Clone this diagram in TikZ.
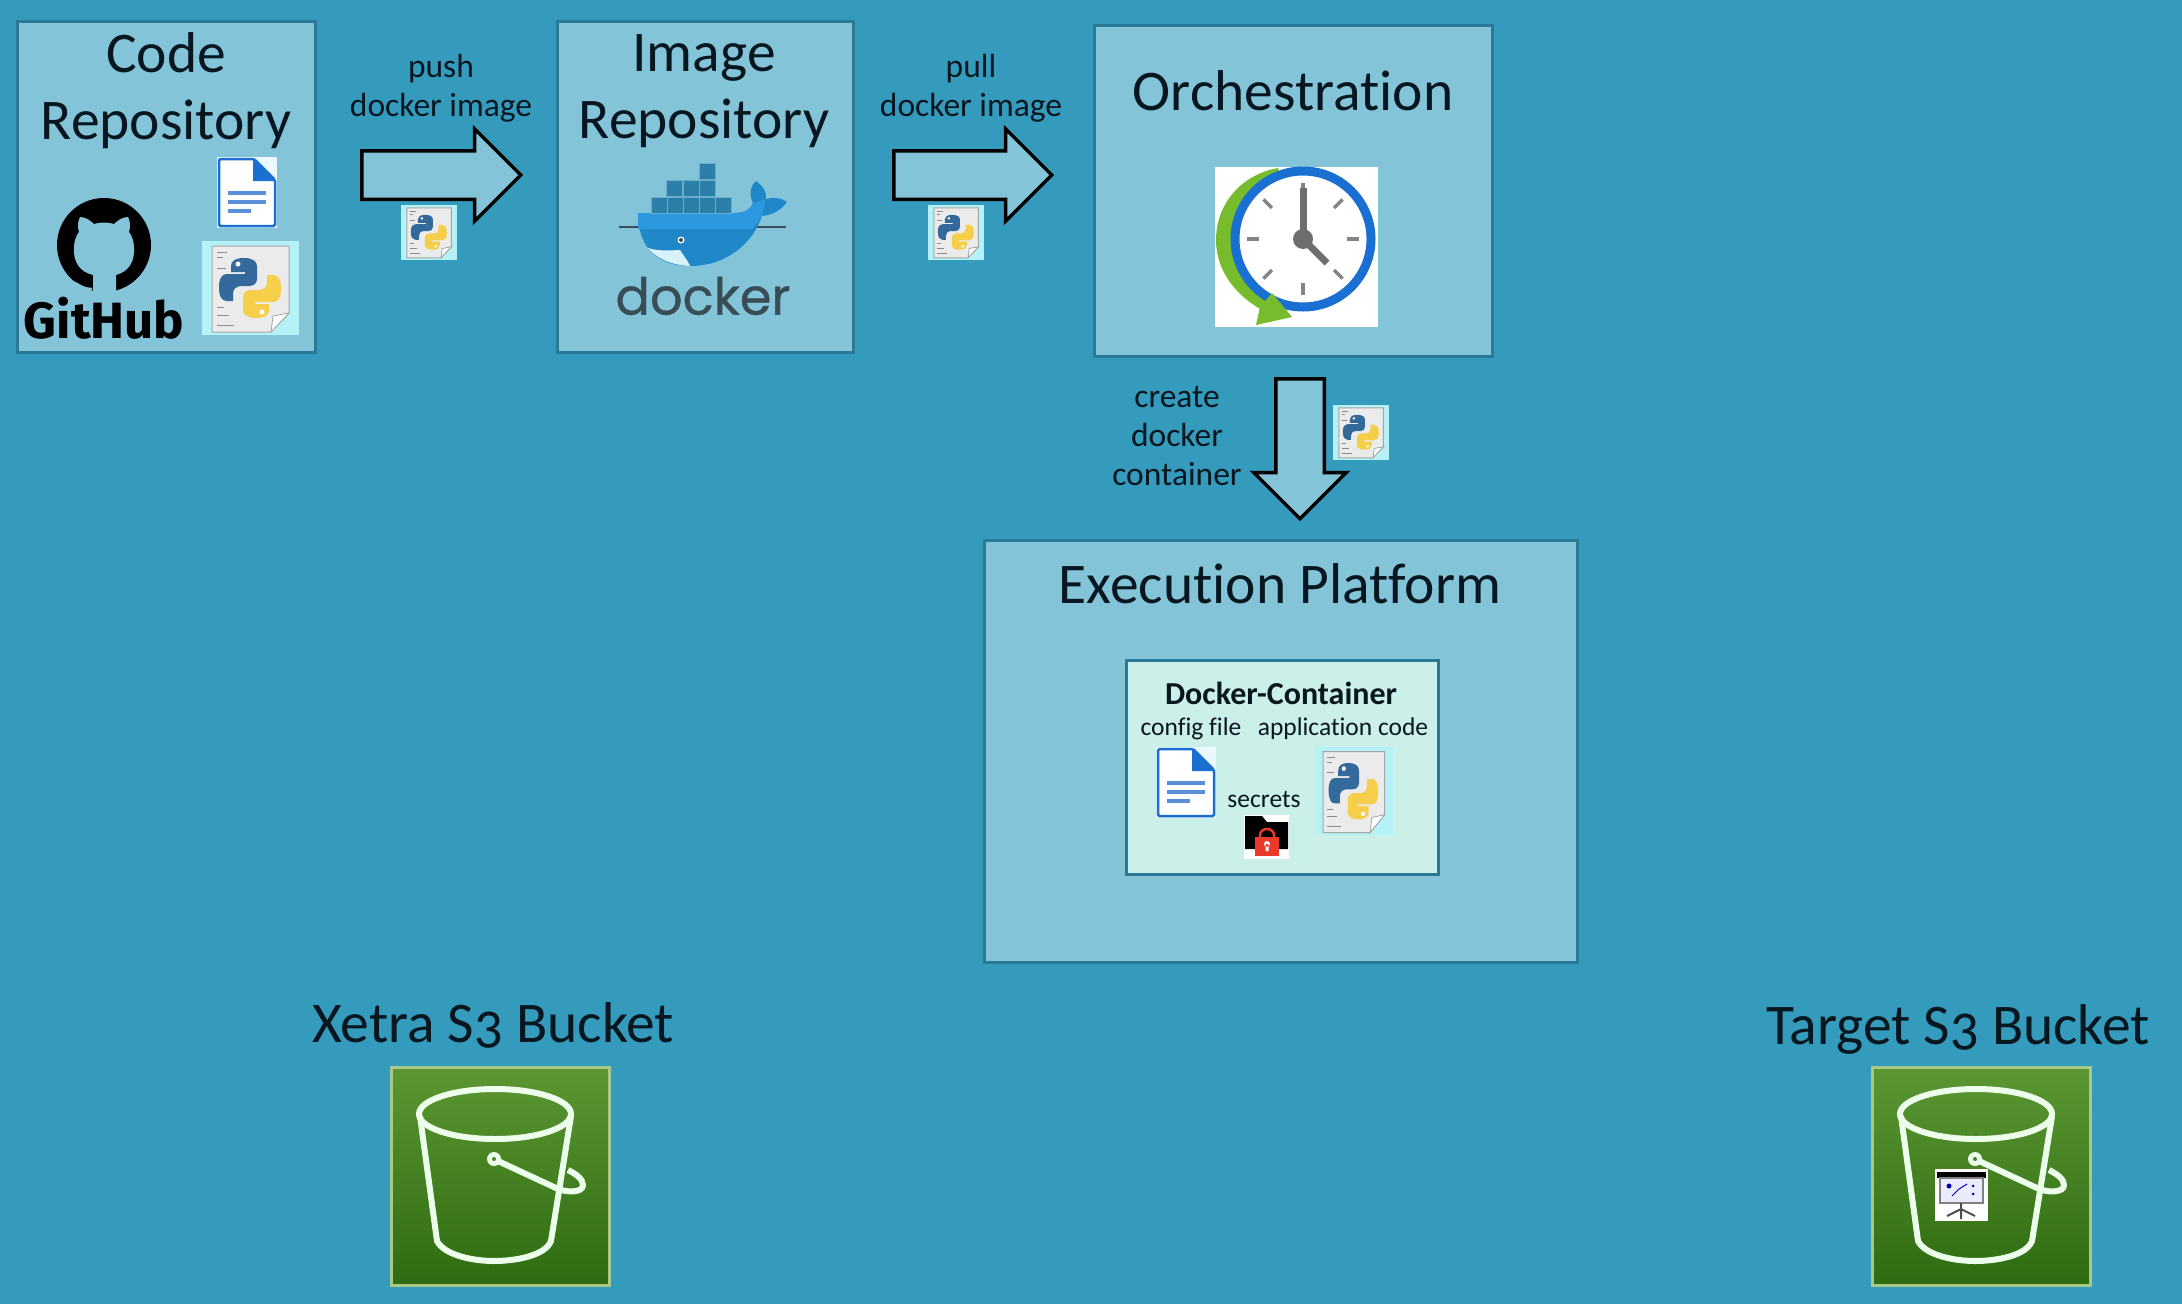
\documentclass[tikz,border=0pt]{standalone}
\usepackage{fontspec}
\setmainfont{Carlito}[Numbers=OldStyle,Ligatures=NoCommon]
\newfontfamily\gitfont{Fira Sans}
\newfontfamily\whalefont{Poppins}[FakeBold=0.7]
\usetikzlibrary{shapes.arrows,positioning}

\definecolor{bgblue}{HTML}{349BBD}
\definecolor{panelfill}{HTML}{84C4D9}
\definecolor{paneledge}{HTML}{2A7A97}
\definecolor{boxfill}{HTML}{CBEFE9}
\definecolor{inkdark}{HTML}{07161F}
\definecolor{cyanback}{HTML}{B5F2F8}
\definecolor{pyblue}{HTML}{33699B}
\definecolor{pyyellow}{HTML}{F5CF4A}
\definecolor{docblue}{HTML}{1A6FD0}
\definecolor{docline}{HTML}{5B8FDA}
\definecolor{whaleblue}{HTML}{1F88C9}
\definecolor{whaletop}{HTML}{2C98E0}
\definecolor{cratedark}{HTML}{2B7FA8}
\definecolor{whaleink}{HTML}{394D54}
\definecolor{clockgreen}{HTML}{76BC2C}
\definecolor{clockblue}{HTML}{1A70D2}
\definecolor{clockgrey}{HTML}{6E6E6E}
\definecolor{buckettop}{HTML}{5C9733}
\definecolor{bucketlow}{HTML}{2E6B10}
\definecolor{bucketedge}{HTML}{A8C888}
\definecolor{lockred}{HTML}{E8392B}

\tikzset{
  panel/.style={draw=paneledge,fill=panelfill,line width=3pt,anchor=north west,inner sep=0pt},
  bigtxt/.style={text=inkdark,align=center,inner sep=0pt,font=\fontsize{57.5}{67}\selectfont},
  smalltxt/.style={text=inkdark,align=center,inner sep=0pt,font=\fontsize{33.5}{39}\selectfont},
  tinytxt/.style={text=inkdark,align=center,inner sep=0pt,font=\fontsize{25.5}{30}\selectfont},
  flow/.style={single arrow,draw=black,fill=panelfill,line width=3.5pt,inner sep=22.5pt,
    single arrow head extend=22pt,single arrow tip angle=90,anchor=tail},
  bucketbox/.style={draw=bucketedge,line width=2.5pt,top color=buckettop,bottom color=bucketlow,
    anchor=north west,minimum width=218pt,minimum height=218pt,inner sep=0pt},
  pics/pyicon/.style={code={
    \fill[cyanback] (0,0) rectangle (97,94);
    \filldraw[fill=black!8,draw=black!35,line width=1pt] (10,5) -- (87,5) -- (87,72) -- (69,91) -- (10,91) -- cycle;
    \filldraw[fill=white,draw=black!35,line width=.8pt] (87,72) -- (71,75) -- (69,91) -- cycle;
    \foreach \a/\b in {11/10,16/6,27/9,66/7,74/12,84/17}
      \draw[black!45,line width=.7pt] (15,\a) -- (15+\b,\a);
    \fill[pyblue] (42,17) .. controls (33,17) and (29,20) .. (29,25) -- (29,31) -- (43,31) -- (43,33) -- (25,33)
      .. controls (20,33) and (17,37) .. (17,46) .. controls (17,56) and (20,60) .. (25,60) -- (31,60) -- (31,53)
      .. controls (31,48) and (34,45) .. (40,45) -- (47,45) .. controls (52,45) and (55,42) .. (55,38) -- (55,25)
      .. controls (55,20) and (50,17) .. (42,17) -- cycle;
    \fill[pyyellow] (54,77) .. controls (63,77) and (67,74) .. (67,69) -- (67,63) -- (53,63) -- (53,61) -- (71,61)
      .. controls (76,61) and (79,57) .. (79,48) .. controls (79,38) and (76,34) .. (71,34) -- (65,34) -- (65,41)
      .. controls (65,46) and (62,49) .. (56,49) -- (49,49) .. controls (44,49) and (41,52) .. (41,56) -- (41,69)
      .. controls (41,74) and (46,77) .. (54,77) -- cycle;
    \fill[white] (36,23) circle (2.5) (60,71) circle (2.5);
  }},
  pics/docicon/.style={code={
    \fill[white!92!cyan] (0,0) rectangle (60,71);
    \filldraw[fill=white,draw=docblue,line width=2.5pt,rounded corners=1.5pt] (2,2) -- (37,2) -- (58,23) -- (58,69) -- (2,69) -- cycle;
    \fill[docblue] (36,2) -- (58,24) -- (36,24) -- cycle;
    \draw[docline,line width=3.5pt] (11,36) -- (49,36) (11,45) -- (49,45) (11,54) -- (34,54);
  }},
  pics/hubmark/.style={code={
    \fill[black] (104,245) circle (47);
    \fill[panelfill] (93,295) -- (93,275) .. controls (80,272) and (73,262) .. (74,248)
      .. controls (74,241) and (76,236) .. (79,232) .. controls (77,226) and (78,221) .. (80,217)
      .. controls (85,217) and (90,220) .. (94,224) .. controls (100,222) and (108,222) .. (114,224)
      .. controls (118,220) and (123,217) .. (128,217) .. controls (130,221) and (131,226) .. (129,232)
      .. controls (132,236) and (134,241) .. (134,248) .. controls (135,262) and (128,272) .. (116,275)
      -- (116,295) -- cycle;
    \draw[panelfill,line width=2.5pt] (70,282) .. controls (78,282) and (80,289) .. (92,289);
  }},
  pics/whale/.style={code={
    \draw[whaleink,line width=1.5pt] (619,227) -- (786,227);
    \fill[whaleblue] (638,213) -- (733,213) .. controls (745,213) and (750,210) .. (753,203)
      .. controls (749,195) and (750,186) .. (756,181) .. controls (763,186) and (767,192) .. (766,199)
      .. controls (774,197) and (782,198) .. (787,202) .. controls (780,212) and (770,215) .. (762,216)
      .. controls (752,245) and (725,266) .. (690,266) .. controls (660,266) and (638,250) .. (638,213) -- cycle;
    \fill[whaletop] (638,213) -- (735,213) .. controls (745,213) and (750,210) .. (753,203)
      -- (766,199) -- (762,216) .. controls (758,222) and (756,225) .. (752,229)
      -- (638,229) -- cycle;
    \fill[white!85!cyan] (648,248) .. controls (660,252) and (675,250) .. (680,250)
      .. controls (684,256) and (688,261) .. (690,266) .. controls (670,265) and (656,258) .. (648,248) -- cycle;
    \fill[white] (681,240) circle (3.5);
    \fill[whaleink] (681,240) circle (2);
    \foreach \a/\b in {699/163,666/180,683/180,699/180,651/197,667/197,683/197,699/197,715/197}
      \filldraw[fill=cratedark,draw=panelfill!70!cratedark,line width=.8pt] (\a,\b) rectangle ++(16,16);
  }},
  pics/clockicon/.style={code={
    \fill[white] (1215,167) rectangle (1378,327);
    \fill[clockgreen] (1278,168) .. controls (1240,175) and (1216,205) .. (1216,240)
      .. controls (1216,270) and (1235,295) .. (1262,310) -- (1290,300) -- (1300,239) -- cycle;
    \filldraw[fill=white,draw=clockblue,line width=9pt] (1303,239) circle (68);
    \fill[clockgreen] (1272,293) -- (1292,317) -- (1256,325) -- (1260,307) -- cycle;
    \foreach \a in {0,45,90,135,180,225,270,315}
      \draw[clockgrey!85,line width=3.5pt] (1303,239) ++(\a:44) -- ++(\a:12);
    \draw[clockgrey,line width=7pt] (1303,239) -- (1303,188);
    \draw[clockgrey,line width=7pt] (1303,239) -- (1327,263);
    \fill[clockgrey] (1303,239) circle (10);
  }},
  pics/bucketline/.style={code={
    \draw[white!92!green,line width=6pt] (105,48) ellipse (76 and 25);
    \draw[white!92!green,line width=6pt,line join=round] (30,50) -- (47,175)
      .. controls (55,190) and (85,195) .. (104,195) .. controls (125,195) and (155,190) .. (161,175) -- (181,50);
    \draw[white!92!green,line width=6pt] (108,95) -- (166,122) .. controls (176,127) and (193,127) .. (193,119)
      .. controls (193,113) and (186,108) .. (178,104);
    \fill[white!92!green] (104,93) circle (7);
    \fill[buckettop!60!bucketlow] (104,93) circle (2);
  }},
  pics/lockicon/.style={code={
    \fill[white] (0,0) rectangle (45,44);
    \fill[black] (1,1) -- (18,1) -- (23,7) -- (44,7) -- (44,34) -- (1,34) -- cycle;
    \draw[lockred,line width=2.5pt] (16,24) -- (16,20) arc (180:360:7 and 6) -- (30,24);
    \fill[lockred] (11,22) rectangle (35,41);
    \fill[white] (23,29) circle (3) (21.5,29) rectangle (24.5,36);
  }},
  pics/screenicon/.style={code={
    \fill[white] (0,0) rectangle (53,52);
    \fill[black] (2,3) rectangle (51,9);
    \filldraw[fill=blue!8,draw=black!50,line width=1.2pt] (5,9) rectangle (48,34);
    \fill[blue!70!black] (14,17) circle (2.5) (38,17) circle (1.5) (38,25) circle (1.5);
    \draw[blue!70!black,line width=1pt] (17,27) -- (24,20) -- (32,15);
    \draw[black!70,line width=2pt] (26,34) -- (26,50) (12,47) -- (26,40) -- (40,47);
  }},
}

\begin{document}
\begin{tikzpicture}[x=1pt,y=-1pt]
\useasboundingbox (0,0) rectangle (2182,1304);
\fill[bgblue] (0,0) rectangle (2182,1304);

% top row
\node[panel,minimum width=298pt,minimum height=331pt] (coderepo) at (16,20) {};
\node[bigtxt] (codetxt) at (166,91) {Code\\Repository};
\pic (gitmark) at (0,0) {hubmark};
\node[inner sep=0pt,font=\gitfont\bfseries\fontsize{51}{60}\selectfont] (gittxt) at (104,318) {GitHub};
\pic (doca) at (217,157) {docicon};
\pic (pya) at (202,241) {pyicon};

\node[panel,minimum width=296pt,minimum height=331pt] (imagerepo) at (556,20) {};
\node[bigtxt] (imagetxt) at (704,91) {Image\\Repository};
\pic (dockerwhale) at (0,0) {whale};
\node[inner sep=0pt,text=whaleink,font=\whalefont\fontsize{51}{60}\selectfont] (dockertxt) at (703,296) {docker};

\node[panel,minimum width=398pt,minimum height=331pt] (orch) at (1093,24) {};
\node[bigtxt] (orchtxt) at (1293,91) {Orchestration};
\pic (clock) at (0,0) {clockicon};

% arrows
\node[flow,minimum height=159pt] (pusharrow) at (360,175) {};
\node[smalltxt] (pushtxt) at (441,88) {push\\docker image};
\pic[scale=.58] (pyb) at (401,205) {pyicon};
\node[flow,minimum height=158pt] (pullarrow) at (892,175) {};
\node[smalltxt] (pulltxt) at (971,88) {pull\\docker image};
\pic[scale=.58] (pyc) at (928,205) {pyicon};
\node[flow,minimum height=140pt,shape border rotate=270] (createarrow) at (1300,377) {};
\node[smalltxt] (createtxt) at (1177,436) {create\\docker\\container};
\pic[scale=.58] (pyd) at (1333,405) {pyicon};

% execution platform
\node[panel,minimum width=593pt,minimum height=422pt] (exec) at (983,539) {};
\node[bigtxt] (exectxt) at (1280,584) {Execution Platform};
\node[panel,fill=boxfill,minimum width=312pt,minimum height=214pt] (container) at (1125,659) {};
\node[tinytxt,font=\bfseries\fontsize{32}{34}\selectfont] (containertxt) at (1281,693) {Docker-Container};
\node[tinytxt] (configtxt) at (1191,729) {config file};
\node[tinytxt] (apptxt) at (1343,729) {application code};
\pic (docb) at (1156,747) {docicon};
\pic[xscale=.8,yscale=.94] (pye) at (1315,747) {pyicon};
\node[tinytxt] (secrettxt) at (1264,800) {secrets};
\pic (lock) at (1244,815) {lockicon};

% buckets
\node[bigtxt] (xetratxt) at (493,1025) {Xetra S3 Bucket};
\node[bucketbox] (xetra) at (390,1066) {};
\pic (xetraline) at (390,1066) {bucketline};
\node[bigtxt] (targettxt) at (1958,1029) {Target S3 Bucket};
\node[bucketbox] (target) at (1871,1066) {};
\pic (targetline) at (1871,1066) {bucketline};
\pic (screen) at (1935,1169) {screenicon};
\end{tikzpicture}
\end{document}
